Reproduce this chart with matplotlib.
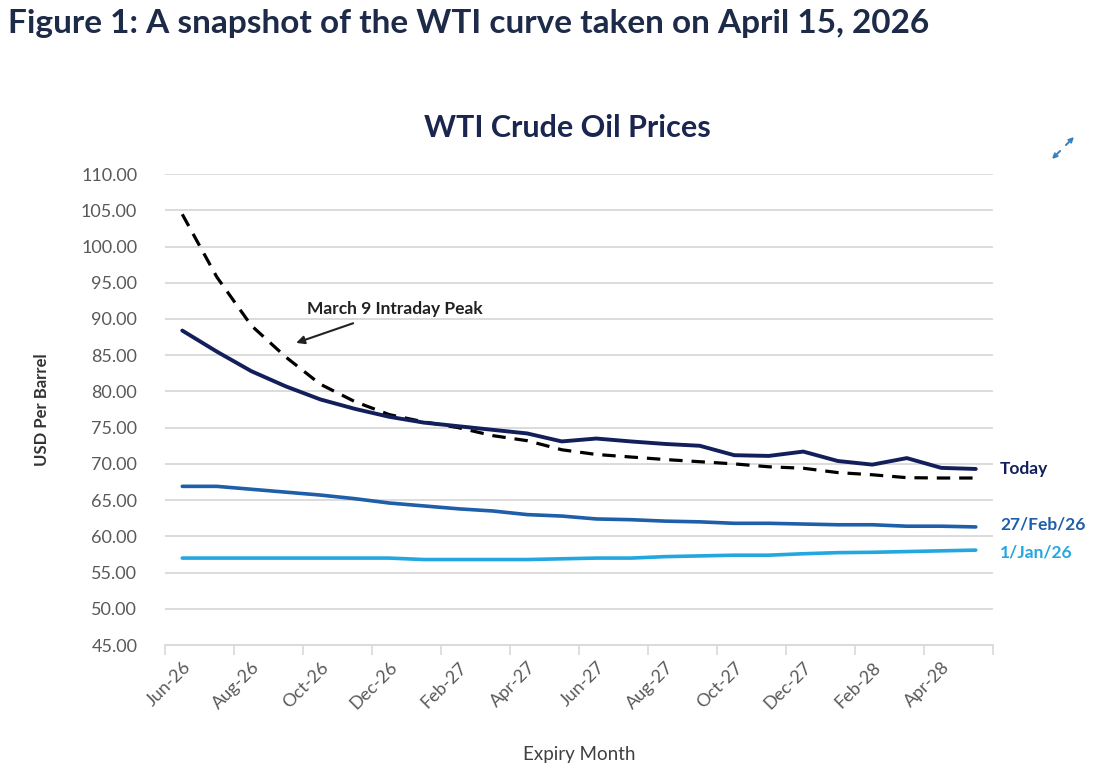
import matplotlib
matplotlib.use("Agg")
import matplotlib.pyplot as plt
import numpy as np

plt.rcParams['font.family'] = ['Lato', 'DejaVu Sans']

months = ["Jun-26", "Jul-26", "Aug-26", "Sep-26", "Oct-26", "Nov-26", "Dec-26", "Jan-27",
          "Feb-27", "Mar-27", "Apr-27", "May-27", "Jun-27", "Jul-27", "Aug-27", "Sep-27",
          "Oct-27", "Nov-27", "Dec-27", "Jan-28", "Feb-28", "Mar-28", "Apr-28", "May-28"]

today = [88.4, 85.5, 82.8, 80.7, 78.9, 77.6, 76.5, 75.7, 75.2, 74.7, 74.2, 73.1,
         73.5, 73.1, 72.75, 72.5, 71.2, 71.1, 71.7, 70.4, 69.9, 70.8, 69.45, 69.3]
peak_mar9 = [104.45, 95.8, 89.1, 84.75, 81.0, 78.6, 76.8, 75.8, 75.0, 73.9, 73.2, 71.95,
             71.3, 70.95, 70.6, 70.3, 70.0, 69.6, 69.4, 68.8, 68.5, 68.1, 68.05, 68.05]
feb27 = [66.9, 66.9, 66.5, 66.1, 65.7, 65.2, 64.6, 64.2, 63.8, 63.5, 63.0, 62.8,
         62.4, 62.3, 62.1, 62.0, 61.8, 61.8, 61.7, 61.6, 61.6, 61.4, 61.4, 61.3]
jan1 = [57.0, 57.0, 57.0, 57.0, 57.0, 57.0, 57.0, 56.8, 56.8, 56.8, 56.8, 56.9,
        57.0, 57.0, 57.2, 57.3, 57.4, 57.4, 57.6, 57.75, 57.8, 57.9, 58.0, 58.1]

navy = "#131f5b"
mid_blue = "#1f5ea8"
light_blue = "#22a7e0"
grey_text = "#595959"

x = np.arange(len(months))

fig = plt.figure(figsize=(10.98, 7.83), dpi=100)
ax = fig.add_axes([0.1503, 0.1762, 0.7541, 0.6015])

ax.plot(x, jan1, color=light_blue, lw=2.6, solid_capstyle='round')
ax.plot(x, feb27, color=mid_blue, lw=2.6, solid_capstyle='round')
ax.plot(x, peak_mar9, color="black", lw=2.3, dashes=(4.2, 2.8))
ax.plot(x, today, color=navy, lw=2.8, solid_capstyle='round')

ax.set_xlim(-0.5, len(months) - 0.5)
ax.set_ylim(45, 110)
ax.set_yticks(np.arange(45, 111, 5))
ax.set_yticklabels(["%.2f" % v for v in np.arange(45, 111, 5)])
ax.yaxis.grid(True, color="#d9d9d9", lw=1.3)
ax.set_axisbelow(True)
ax.tick_params(axis='y', length=0, pad=20, labelsize=13, labelcolor=grey_text)

ax.set_xticks(x[::2])
ax.set_xticklabels(months[::2], rotation=45, ha='right', rotation_mode='anchor')
ax.set_xticks(np.arange(-0.5, len(months), 2), minor=True)
ax.tick_params(axis='x', which='major', length=0, pad=10, labelsize=13, labelcolor=grey_text)
ax.tick_params(axis='x', which='minor', length=7, width=1.2, color="#d9d9d9")

for s in ["top", "right", "left"]:
    ax.spines[s].set_visible(False)
ax.spines["bottom"].set_color("#d9d9d9")
ax.spines["bottom"].set_linewidth(1.3)

ax.set_ylabel("USD Per Barrel", fontsize=12, color="#333333", fontweight='bold', labelpad=22)
ax.set_xlabel("Expiry Month", fontsize=13.5, color="#404040", labelpad=24)

# series labels at the right end
ax.text(len(months) - 0.3, today[-1], "Today", color=navy, fontsize=12.5,
        fontweight='bold', va='center')
ax.text(len(months) - 0.3, feb27[-1] + 0.4, "27/Feb/26", color=mid_blue, fontsize=12.5,
        fontweight='bold', va='center')
ax.text(len(months) - 0.3, jan1[-1] - 0.3, "1/Jan/26", color=light_blue, fontsize=12.5,
        fontweight='bold', va='center')

ax.annotate("March 9 Intraday Peak", xy=(3.3, 86.7), xytext=(3.62, 91.4),
            fontsize=12.5, fontweight='bold', color="#222222", va='center',
            arrowprops=dict(arrowstyle="-|>", color="#222222", lw=1.5,
                            shrinkA=8, shrinkB=0, mutation_scale=12))

fig.text(567 / 1098, 1 - 128 / 783, "WTI Crude Oil Prices", fontsize=22, fontweight='bold',
         color="#1a2550", ha='center', va='center')

fig.text(0.007, 1 - 24 / 783, "Figure 1: A snapshot of the WTI curve taken on April 15, 2026",
         fontsize=24, fontweight='bold', color="#1d2a48", va='center', ha='left')

# expand icon
icon_c = (1063 / 1098, 1 - 148 / 783)
for dx, dy in [(0.010, 0.014), (-0.010, -0.014)]:
    fig.add_artist(matplotlib.patches.FancyArrowPatch(
        icon_c, (icon_c[0] + dx, icon_c[1] + dy), transform=fig.transFigure,
        arrowstyle="->", color="#2f7fc1", lw=1.4, mutation_scale=7, shrinkA=3, shrinkB=0))

fig.savefig("out.png", dpi=100, facecolor="white")
